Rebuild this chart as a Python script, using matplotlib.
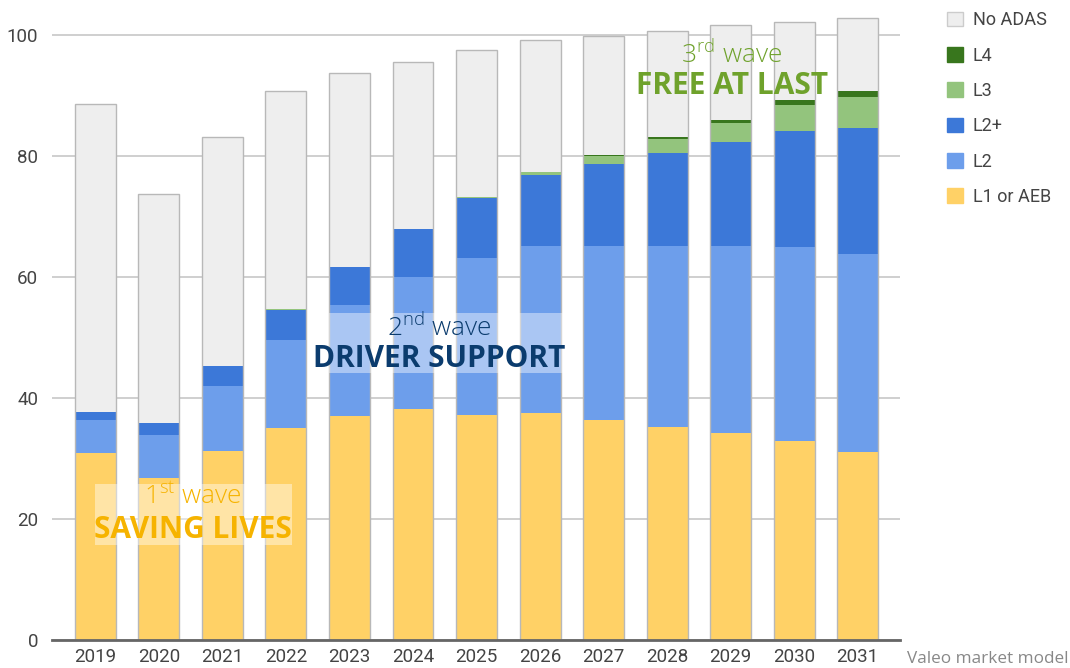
import matplotlib
matplotlib.use("Agg")
import matplotlib.pyplot as plt
from matplotlib.patches import Rectangle, Patch
import numpy as np

years = ["2019", "2020", "2021", "2022", "2023", "2024", "2025",
         "2026", "2027", "2028", "2029", "2030", "2031"]
l1_aeb = [30.9, 26.8, 31.2, 35.0, 37.0, 38.2, 37.2, 37.5, 36.4, 35.2, 34.2, 32.9, 31.1]
l2 = [5.5, 7.1, 10.8, 14.6, 18.4, 21.8, 25.9, 27.6, 28.7, 29.9, 30.9, 32.1, 32.7]
l2_plus = [1.3, 2.0, 3.3, 4.9, 6.3, 7.9, 10.0, 11.8, 13.6, 15.4, 17.3, 19.1, 20.8]
l3 = [0.0, 0.0, 0.0, 0.2, 0.0, 0.0, 0.2, 0.4, 1.3, 2.3, 3.1, 4.4, 5.2]
l4 = [0.0, 0.0, 0.0, 0.0, 0.0, 0.0, 0.0, 0.0, 0.2, 0.4, 0.5, 0.7, 0.9]
totals = [88.6, 73.7, 83.1, 90.7, 93.7, 95.5, 97.5, 99.2, 99.8, 100.7, 101.6, 102.2, 102.8]
no_adas = [round(t - a - b - c - d - e, 1)
           for t, a, b, c, d, e in zip(totals, l1_aeb, l2, l2_plus, l3, l4)]

series = [("L1 or AEB", l1_aeb, "#FFD166"),
          ("L2", l2, "#6D9EEB"),
          ("L2+", l2_plus, "#3C78D8"),
          ("L3", l3, "#93C47D"),
          ("L4", l4, "#38761D"),
          ("No ADAS", no_adas, "#EEEEEE")]

W, H = 1070, 668
fig = plt.figure(figsize=(W / 100, H / 100), dpi=100)
ax = fig.add_axes([52 / W, (H - 640) / H, (900 - 52) / W, 640 / H])

x = np.arange(len(years))
bw = 0.645
bottom = np.zeros(len(years))
for name, vals, col in series:
    v = np.array(vals)
    ax.bar(x, v, bw, bottom=bottom, color=col, edgecolor="none", zorder=2)
    bottom += v
ax.bar(x, bottom, bw, fill=False, edgecolor="#b8b8b8", linewidth=1.0, zorder=3)

ax.set_xlim(-0.684, 12.668)
ax.set_ylim(0, 105.8)
ax.set_yticks([0, 20, 40, 60, 80, 100])
ax.set_xticks(x)
ax.set_xticklabels(years)
ax.grid(axis="y", color="#cccccc", linewidth=1.3, zorder=0)
ax.set_axisbelow(True)
for s in ["left", "right", "top"]:
    ax.spines[s].set_visible(False)
ax.spines["bottom"].set_color("#666666")
ax.spines["bottom"].set_linewidth(2)
ax.spines["bottom"].set_zorder(4)
ax.tick_params(axis="both", length=0, labelsize=13.5, labelcolor="#444444",
               labelfontfamily="Roboto")
ax.tick_params(axis="y", pad=10)
ax.tick_params(axis="x", pad=6)

def fx(p):
    return p / W

def fy(p):
    return (H - p) / H

# translucent label boxes
fig.patches.append(Rectangle((fx(95), fy(545)), (292 - 95) / W, 61 / H,
                             transform=fig.transFigure, facecolor="white",
                             alpha=0.42, edgecolor="none", zorder=5))
fig.patches.append(Rectangle((fx(329), fy(373)), (563 - 329) / W, 60 / H,
                             transform=fig.transFigure, facecolor="white",
                             alpha=0.42, edgecolor="none", zorder=5))

plt.rcParams["mathtext.default"] = "regular"
fam = ["Open Sans", "DejaVu Sans"]

def wave(cx, y1, y2, num, sup, title, col):
    fig.text(fx(cx), fy(y1), num + r"$^{" + sup + r"}$" + " wave", ha="center",
             va="center", fontsize=19, color=col, family=fam, weight="light", zorder=6)
    fig.text(fx(cx), fy(y2), title, ha="center", va="center", fontsize=21.5,
             color=col, family=fam, weight="bold", zorder=6)

wave(193, 497, 530, "1", "st", "SAVING LIVES", "#F6B300")
wave(439, 328, 359, "2", "nd", "DRIVER SUPPORT", "#0B3C6E")
wave(732, 55, 86, "3", "rd", "FREE AT LAST", "#6FA22C")

fig.text(fx(907), fy(659), "Valeo market model", ha="left", va="center",
         fontsize=12.3, color="#888888", family=fam)

handles = [Patch(facecolor=col, edgecolor="#cccccc" if name == "No ADAS" else col,
                 label=name) for name, vals, col in series[::-1]]
leg = fig.legend(handles=handles, loc="upper left", bbox_to_anchor=(fx(931), fy(-5)),
                 frameon=False, handlelength=0.85, handleheight=0.85, handletextpad=0.55,
                 labelspacing=0.96, prop={"family": "Roboto", "size": 13})
for t in leg.get_texts():
    t.set_color("#444444")

fig.savefig("out.png", dpi=100)
